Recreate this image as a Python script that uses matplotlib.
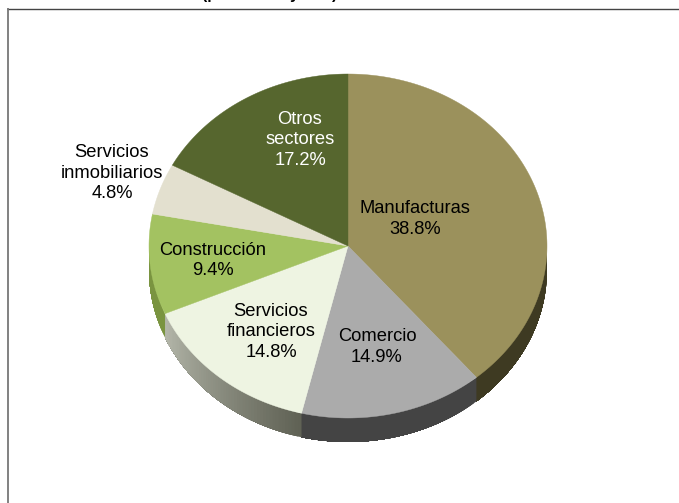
import numpy as np
import matplotlib
matplotlib.use("Agg")
import matplotlib.pyplot as plt
from matplotlib.collections import PolyCollection

plt.rcParams['font.family'] = ['Liberation Sans', 'DejaVu Sans']

W, H = 679, 503

categories = ["Manufacturas", "Comercio", "Servicios\nfinancieros", "Construcción",
              "Servicios\ninmobiliarios", "Otros\nsectores"]
values = [38.8, 14.9, 14.8, 9.4, 4.8, 17.2]
top_colors = ["#9B915C", "#ABABAB", "#EEF4E2", "#A3C261", "#E3E0CF", "#56662E"]
side_start = ["#3E3A22", "#444444", "#B5B8AB", "#7A9440", "#A9A79A", "#40491F"]
side_end = ["#3E3A22", "#444444", "#5F6154", "#7A9440", "#A9A79A", "#40491F"]
text_colors = ["black", "black", "black", "black", "black", "white"]
title = "(por sector y año)"

CX, CY, RX, RY, DEPTH = 348, 246, 199, 172, 24
label_pos = [(415, 219), (377, 347), (271, 332), (213, 260.5), (112, 173), (300, 140)]


def hex2rgb(c):
    return np.array(matplotlib.colors.to_rgb(c))


fig = plt.figure(figsize=(W / 100, H / 100), dpi=100, facecolor="white")
ax = fig.add_axes([0, 0, 1, 1])
ax.set_xlim(0, W)
ax.set_ylim(H, 0)
ax.axis("off")

# frame (runs past the right and bottom edges of the picture)
ax.plot([7, W + 5], [8.5, 8.5], color="#444444", lw=1.0, zorder=0, solid_capstyle="butt")
ax.plot([7.5, 7.5], [8, H + 5], color="#777777", lw=1.3, zorder=0, solid_capstyle="butt")

edges = np.concatenate([[0], np.cumsum(values)]) / np.sum(values) * 2 * np.pi


def point(t, dy=0.0):
    return CX + RX * np.sin(t), CY - RY * np.cos(t) + dy


# extruded side, visible on the lower half only
for i in range(len(values)):
    a, b = edges[i], edges[i + 1]
    a2, b2 = max(a, np.pi / 2), min(b, 3 * np.pi / 2)
    if a2 >= b2:
        continue
    n = max(int((b2 - a2) * 60), 2)
    ts = np.linspace(a2, b2, n + 1)
    polys, cols = [], []
    c0, c1 = hex2rgb(side_end[i]), hex2rgb(side_start[i])
    for k in range(n):
        # each strip reaches on to the slice end, so later strips cover the seams
        seg = ts[k:]
        xs, ys = point(seg)
        polys.append(np.column_stack([np.r_[xs, xs[::-1]], np.r_[ys, ys[::-1] + DEPTH]]))
        f = (k + 0.5) / n
        cols.append(c0 * (1 - f) + c1 * f)
    ax.add_collection(PolyCollection(polys, facecolors=cols, edgecolors="none", zorder=1 + i * 0.01))

# top face
for i in range(len(values)):
    ts = np.linspace(edges[i], edges[i + 1], 200)
    xs, ys = point(ts)
    ax.fill(np.r_[CX, xs], np.r_[CY, ys], fc=top_colors[i], ec=top_colors[i], lw=0.3, zorder=2)

# labels
for name, v, (x, y), col in zip(categories, values, label_pos, text_colors):
    ax.text(x, y, f"{name}\n{v:.1f}%", ha="center", va="center", fontsize=13.2,
            color=col, linespacing=1.26, zorder=3)

# title cropped by the top edge of the picture
ax.text(270, -1, title, ha="center", va="baseline", fontsize=11.5, fontweight="bold", zorder=4)

fig.savefig("out.png", dpi=100, facecolor="white")
